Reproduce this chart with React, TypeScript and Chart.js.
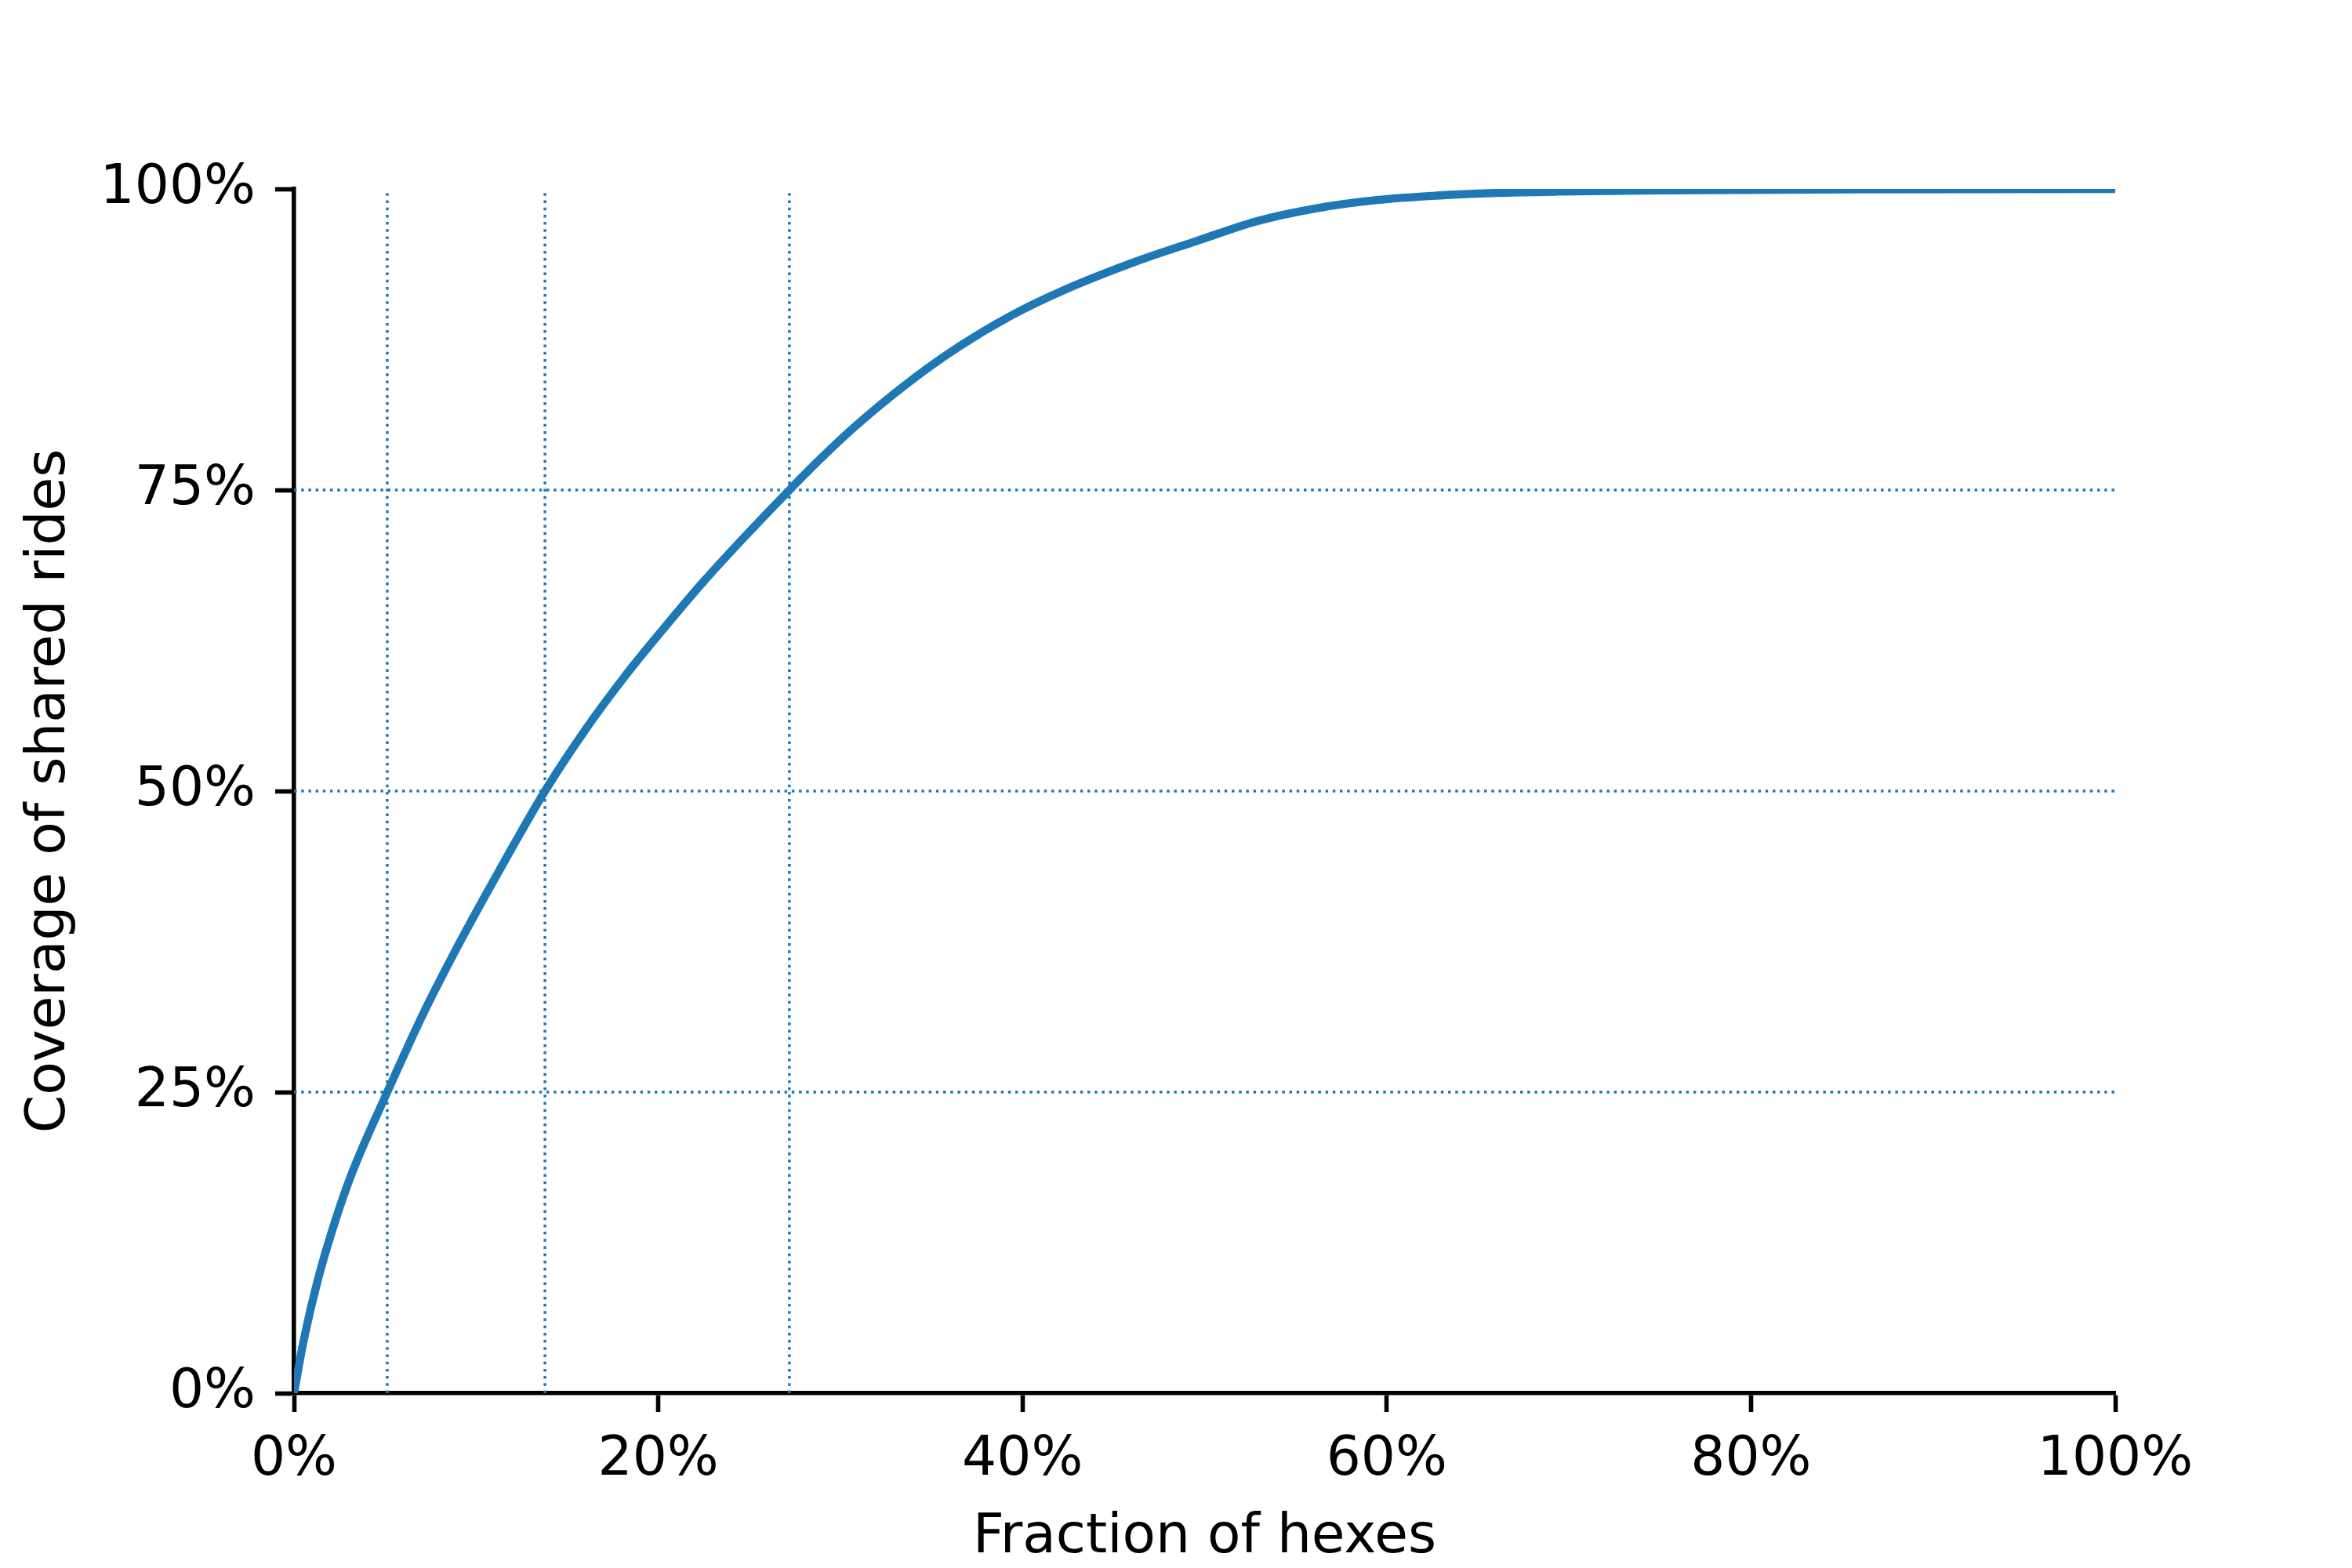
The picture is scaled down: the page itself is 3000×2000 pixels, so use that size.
import React, { useEffect, useRef } from "react";
import { Chart, registerables } from "chart.js";

Chart.register(...registerables);

// Fraction of hexes (%) and cumulative coverage of shared rides (%)
const fractionOfHexes = [0, 0.52, 1.29, 2.24, 3.19, 5.12, 7.06, 8.95, 10.9, 12.05, 13.78, 16, 18.15, 20.3, 22.46, 24.61, 27.2, 28.64, 30.75, 33.63, 36.51, 39.4, 42.28, 46.28, 49.57, 52.86, 56.16, 59.45, 62.75, 66.04, 69.34, 75, 85, 100];
const coverage = [0, 4.3, 9.3, 14.2, 18.3, 25, 31.4, 37.0, 42.4, 45.5, 50, 55.1, 59.5, 63.5, 67.35, 70.9, 75, 77.2, 80.2, 83.8, 86.9, 89.5, 91.6, 94.0, 95.68, 97.32, 98.4, 99.08, 99.45, 99.67, 99.78, 99.88, 99.96, 100];

// Reference levels
const coverageLevels = [25, 50, 75];
const hexesAtLevels = [5.12, 13.78, 27.2];

const xTicks = [0, 20, 40, 60, 80, 100];
const yTicks = [0, 25, 50, 75, 100];

const xTitle = "Fraction of hexes";
const yTitle = "Coverage of shared rides";

const BLUE = "#1f77b4";
const FONT = "DejaVu Sans";
const FS = 69.4;

export default function App() {
  const ref = useRef<HTMLCanvasElement | null>(null);

  useEffect(() => {
    document.body.style.margin = "0";
    const canvas = ref.current;
    if (!canvas) return;

    const curve = fractionOfHexes.map((x, i) => ({ x, y: coverage[i] }));
    const refSets: any[] = [];
    coverageLevels.forEach((lvl) => {
      refSets.push({
        data: [{ x: 0, y: lvl }, { x: 100, y: lvl }],
        borderColor: BLUE,
        borderWidth: 3.5,
        borderDash: [3.5, 5.7],
        pointRadius: 0,
        order: 1,
      });
    });
    hexesAtLevels.forEach((h) => {
      refSets.push({
        data: [{ x: h, y: 0 }, { x: h, y: 100 }],
        borderColor: BLUE,
        borderWidth: 3.5,
        borderDash: [3.5, 5.7],
        pointRadius: 0,
        order: 1,
      });
    });

    const chart = new Chart(canvas, {
      type: "line",
      data: {
        datasets: [
          {
            data: curve,
            borderColor: BLUE,
            borderWidth: 10.4,
            pointRadius: 0,
            cubicInterpolationMode: "monotone",
            order: 0,
          },
          ...refSets,
        ],
      },
      options: {
        animation: false,
        responsive: false,
        devicePixelRatio: 1,
        layout: { padding: { left: 0, top: 241, right: 302, bottom: 0 } },
        plugins: { legend: { display: false }, tooltip: { enabled: false } },
        scales: {
          x: {
            type: "linear",
            min: 0,
            max: 100,
            afterBuildTicks: (s: any) => {
              s.ticks = xTicks.map((v) => ({ value: v }));
            },
            afterFit: (s: any) => {
              s.height = 223;
            },
            ticks: {
              color: "#000",
              font: { family: FONT, size: FS },
              padding: 20,
              maxRotation: 0,
              callback: (v: any) => `${v}%`,
            },
            grid: {
              drawOnChartArea: false,
              drawTicks: true,
              tickLength: 24,
              tickWidth: 5.6,
              tickColor: "#000",
            },
            border: { display: true, color: "#000", width: 5.6 },
            title: {
              display: true,
              text: xTitle,
              color: "#000",
              font: { family: FONT, size: FS },
              padding: { top: 0, bottom: -4 },
            },
          },
          y: {
            type: "linear",
            min: 0,
            max: 100,
            afterBuildTicks: (s: any) => {
              s.ticks = yTicks.map((v) => ({ value: v }));
            },
            afterFit: (s: any) => {
              s.width = 375;
            },
            ticks: {
              color: "#000",
              font: { family: FONT, size: FS },
              padding: 25,
              callback: (v: any) => `${v}%`,
            },
            grid: {
              drawOnChartArea: false,
              drawTicks: true,
              tickLength: 24,
              tickWidth: 5.6,
              tickColor: "#000",
            },
            border: { display: true, color: "#000", width: 5.6 },
            title: {
              display: true,
              text: yTitle,
              color: "#000",
              font: { family: FONT, size: FS },
              padding: { top: 22, bottom: 0 },
            },
          },
        },
      },
    } as any);

    return () => chart.destroy();
  }, []);

  return (
    <div style={{ width: 3000, height: 2000, background: "#fff" }}>
      <canvas ref={ref} width={3000} height={2000} style={{ width: 3000, height: 2000, display: "block" }} />
    </div>
  );
}
